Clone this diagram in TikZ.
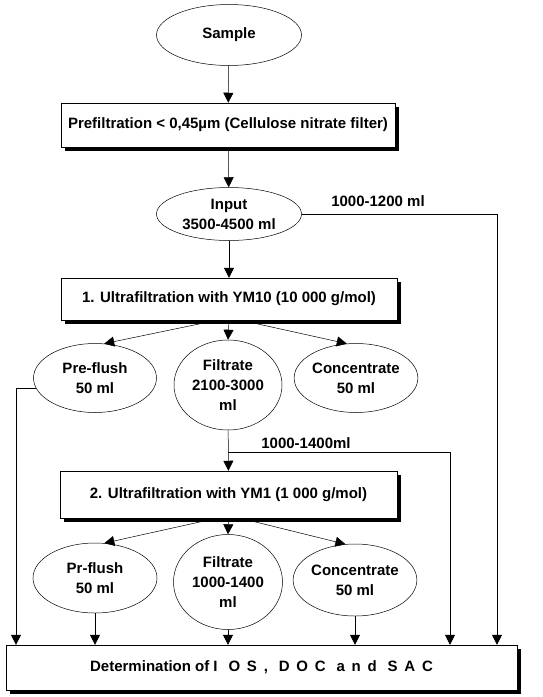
\documentclass[tikz,border=0pt]{standalone}
\usepackage{fontspec}
\setmainfont{Liberation Sans}
\usetikzlibrary{arrows.meta,shapes.geometric,shadows}

\begin{document}
\begin{tikzpicture}[x=1pt,y=-1pt,
		font=\bfseries\fontsize{15}{20}\selectfont,
		oval/.style={draw,ellipse,inner sep=0pt,align=center,line width=0.5pt},
		stage/.style={draw,fill=white,inner sep=0pt,line width=0.5pt,
			drop shadow={shadow xshift=4pt,shadow yshift=-4pt,fill=black,opacity=1}},
		flow/.style={line width=0.5pt,-{Triangle[width=10pt,length=10pt]}}]
				\useasboundingbox (0,0) rectangle (543,697);
				
				% top of the chain
				\node[oval,minimum width=145pt,minimum height=61pt] (sample) at (229,35) {Sample};
				\node[stage,minimum width=334pt,minimum height=44pt] (prefilt) at (228,125) {Prefiltration < 0,45µm (Cellulose nitrate filter)};
				\node[oval,minimum width=145pt,minimum height=53pt] (input) at (229,214) {Input\\3500-4500 ml};
				
				% first ultrafiltration
				\node[stage,minimum width=336pt,minimum height=42pt] (uf1) at (229,299) {1. Ultrafiltration with YM10 (10 000 g/mol)};
				\node[oval,minimum width=123pt,minimum height=69pt] (flushA) at (95,378) {Pre-flush\\50 ml};
				\node[oval,minimum width=108pt,minimum height=90pt] (filtA) at (228,385) {Filtrate\\2100-3000\\ml};
				\node[oval,minimum width=121pt,minimum height=69pt] (concA) at (356,378) {Concentrate\\50 ml};
				
				% second ultrafiltration
				\node[stage,minimum width=337pt,minimum height=47pt] (uf2) at (228.5,494.5) {2. Ultrafiltration with YM1 (1 000 g/mol)};
				\node[oval,minimum width=124pt,minimum height=70pt] (flushB) at (95,578) {Pr-flush\\50 ml};
				\node[oval,minimum width=109pt,minimum height=95pt] (filtB) at (228,582) {Filtrate\\1000-1400\\ml};
				\node[oval,minimum width=120pt,minimum height=72pt] (concB) at (355,580) {Concentrate\\50 ml};
				
				\node[stage,minimum width=511pt,minimum height=45pt] (det) at (261.5,667.5) {Determination of\ {\addfontfeature{LetterSpace=45}I OS, DOC and SAC}};
				
				\coordinate (colL) at (16,0);
				\coordinate (colM) at (450,0);
				\coordinate (colR) at (497,0);
				\coordinate (split) at (228,452);
				
				\draw[flow] (sample) -- (prefilt);
				\draw[flow] (prefilt) -- (input);
				\draw[flow] (input) -- (uf1);
				\draw[flow] (input.east) -| (colR |- det.north);
				\node (volA) at (378,201) {1000-1200 ml};
				
				\draw[flow] ([xshift=-12pt]uf1.south) -- (flushA.75);
				\draw[flow] (uf1.south) -- (filtA.north);
				\draw[flow] ([xshift=12pt]uf1.south) -- (concA.105);
				\draw[flow] (flushA.190) -| (colL |- det.north);
				
				\draw[flow] (filtA) -- (uf2);
				\draw[flow] (split) -| (colM |- det.north);
				\node (volB) at (306,443) {1000-1400ml};
				
				\draw[flow] ([xshift=-12pt]uf2.south) -- (flushB.75);
				\draw[flow] (uf2.south) -- (filtB.north);
				\draw[flow] ([xshift=12pt]uf2.south) -- (concB.105);
				\draw[flow] (flushB.south) -- (flushB.south |- det.north);
				\draw[flow] (filtB.south) -- (filtB.south |- det.north);
				\draw[flow] (concB.south) -- (concB.south |- det.north);
			\end{tikzpicture}
\end{document}
